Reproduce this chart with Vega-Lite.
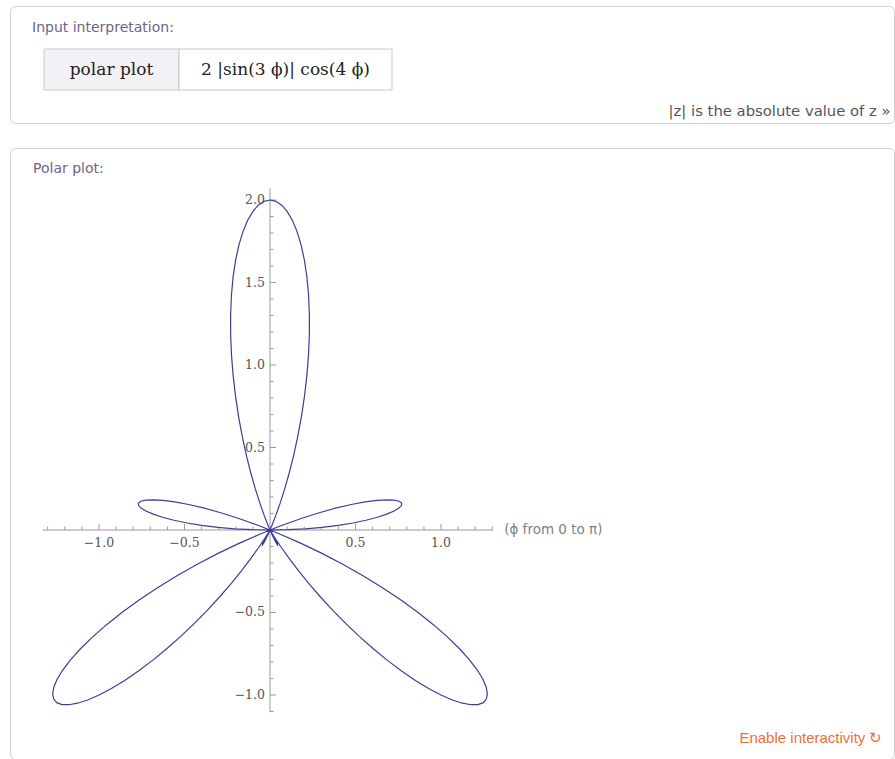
{
  "$schema": "https://vega.github.io/schema/vega-lite/v6.json",
  "background": "white",
  "padding": {"left": 9, "top": 5, "right": 0, "bottom": 0},
  "config": {
    "view": {"stroke": "#cfcfcf"},
    "title": {"font": "DejaVu Sans", "fontSize": 14, "fontWeight": "normal", "color": "#6f6487", "frame": "group"},
    "text": {"font": "DejaVu Sans"}
  },
  "datasets": {
    "input": [
      {"part": "head", "label": "polar plot"},
      {"part": "body", "label": "2 |sin(3 ϕ)| cos(4 ϕ)"}
    ],
    "axes": [
      {"axis": "x", "lo": -1.33, "hi": 1.305, "note": "(ϕ from 0 to π)"},
      {"axis": "y", "lo": -1.105, "hi": 2.07, "note": ""}
    ],
    "ticks": [
      {"axis": "x", "v": -1.3, "m": 0}, {"axis": "x", "v": -1.2, "m": 0}, {"axis": "x", "v": -1.1, "m": 0},
      {"axis": "x", "v": -1.0, "m": 1, "label": "−1.0"}, {"axis": "x", "v": -0.9, "m": 0}, {"axis": "x", "v": -0.8, "m": 0},
      {"axis": "x", "v": -0.7, "m": 0}, {"axis": "x", "v": -0.6, "m": 0}, {"axis": "x", "v": -0.5, "m": 1, "label": "−0.5"},
      {"axis": "x", "v": -0.4, "m": 0}, {"axis": "x", "v": -0.3, "m": 0}, {"axis": "x", "v": -0.2, "m": 0},
      {"axis": "x", "v": -0.1, "m": 0}, {"axis": "x", "v": 0.1, "m": 0}, {"axis": "x", "v": 0.2, "m": 0},
      {"axis": "x", "v": 0.3, "m": 0}, {"axis": "x", "v": 0.4, "m": 0}, {"axis": "x", "v": 0.5, "m": 1, "label": "0.5"},
      {"axis": "x", "v": 0.6, "m": 0}, {"axis": "x", "v": 0.7, "m": 0}, {"axis": "x", "v": 0.8, "m": 0},
      {"axis": "x", "v": 0.9, "m": 0}, {"axis": "x", "v": 1.0, "m": 1, "label": "1.0"}, {"axis": "x", "v": 1.1, "m": 0},
      {"axis": "x", "v": 1.2, "m": 0}, {"axis": "x", "v": 1.3, "m": 0},
      {"axis": "y", "v": -1.1, "m": 0}, {"axis": "y", "v": -1.0, "m": 1, "label": "−1.0"}, {"axis": "y", "v": -0.9, "m": 0},
      {"axis": "y", "v": -0.8, "m": 0}, {"axis": "y", "v": -0.7, "m": 0}, {"axis": "y", "v": -0.6, "m": 0},
      {"axis": "y", "v": -0.5, "m": 1, "label": "−0.5"}, {"axis": "y", "v": -0.4, "m": 0}, {"axis": "y", "v": -0.3, "m": 0},
      {"axis": "y", "v": -0.2, "m": 0}, {"axis": "y", "v": -0.1, "m": 0}, {"axis": "y", "v": 0.1, "m": 0},
      {"axis": "y", "v": 0.2, "m": 0}, {"axis": "y", "v": 0.3, "m": 0}, {"axis": "y", "v": 0.4, "m": 0},
      {"axis": "y", "v": 0.5, "m": 1, "label": "0.5"}, {"axis": "y", "v": 0.6, "m": 0}, {"axis": "y", "v": 0.7, "m": 0},
      {"axis": "y", "v": 0.8, "m": 0}, {"axis": "y", "v": 0.9, "m": 0}, {"axis": "y", "v": 1.0, "m": 1, "label": "1.0"},
      {"axis": "y", "v": 1.1, "m": 0}, {"axis": "y", "v": 1.2, "m": 0}, {"axis": "y", "v": 1.3, "m": 0},
      {"axis": "y", "v": 1.4, "m": 0}, {"axis": "y", "v": 1.5, "m": 1, "label": "1.5"}, {"axis": "y", "v": 1.6, "m": 0},
      {"axis": "y", "v": 1.7, "m": 0}, {"axis": "y", "v": 1.8, "m": 0}, {"axis": "y", "v": 1.9, "m": 0},
      {"axis": "y", "v": 2.0, "m": 1, "label": "2.0"}
    ],
    "curve": [
      {"p": 0, "x": 0, "y": 0}, {"p": 1, "x": 0.1044, "y": 0.0018}, {"p": 2, "x": 0.2069, "y": 0.0072},
      {"p": 3, "x": 0.3055, "y": 0.016}, {"p": 4, "x": 0.3987, "y": 0.0279}, {"p": 5, "x": 0.4846, "y": 0.0424},
      {"p": 6, "x": 0.5614, "y": 0.059}, {"p": 7, "x": 0.6282, "y": 0.0772}, {"p": 8, "x": 0.6831, "y": 0.096},
      {"p": 9, "x": 0.7256, "y": 0.1149}, {"p": 10, "x": 0.7544, "y": 0.133}, {"p": 11, "x": 0.7691, "y": 0.1495},
      {"p": 12, "x": 0.7694, "y": 0.1635}, {"p": 13, "x": 0.7551, "y": 0.1744}, {"p": 14, "x": 0.7261, "y": 0.181},
      {"p": 15, "x": 0.683, "y": 0.183}, {"p": 16, "x": 0.6264, "y": 0.1796}, {"p": 17, "x": 0.5568, "y": 0.1702},
      {"p": 18, "x": 0.4755, "y": 0.1545}, {"p": 19, "x": 0.3837, "y": 0.1321}, {"p": 20, "x": 0.2826, "y": 0.1028},
      {"p": 21, "x": 0.1738, "y": 0.0667}, {"p": 22, "x": 0.0592, "y": 0.0239}, {"p": 23, "x": -0.06, "y": -0.0255},
      {"p": 24, "x": -0.1816, "y": -0.0809}, {"p": 25, "x": -0.304, "y": -0.1417}, {"p": 26, "x": -0.4253, "y": -0.2075},
      {"p": 27, "x": -0.5439, "y": -0.2771}, {"p": 28, "x": -0.6578, "y": -0.3498}, {"p": 29, "x": -0.7658, "y": -0.4245},
      {"p": 30, "x": -0.866, "y": -0.5}, {"p": 31, "x": -0.9573, "y": -0.5752}, {"p": 32, "x": -1.0385, "y": -0.6489},
      {"p": 33, "x": -1.1085, "y": -0.7198}, {"p": 34, "x": -1.1665, "y": -0.7869}, {"p": 35, "x": -1.2122, "y": -0.8488},
      {"p": 36, "x": -1.245, "y": -0.9046}, {"p": 37, "x": -1.2645, "y": -0.9529}, {"p": 38, "x": -1.2711, "y": -0.9932},
      {"p": 39, "x": -1.265, "y": -1.0244}, {"p": 40, "x": -1.2467, "y": -1.0462}, {"p": 41, "x": -1.217, "y": -1.058},
      {"p": 42, "x": -1.176, "y": -1.0589}, {"p": 43, "x": -1.1257, "y": -1.0497}, {"p": 44, "x": -1.0664, "y": -1.03},
      {"p": 45, "x": -1.0, "y": -1.0}, {"p": 46, "x": -0.9274, "y": -0.9603}, {"p": 47, "x": -0.85, "y": -0.9116},
      {"p": 48, "x": -0.7694, "y": -0.8545}, {"p": 49, "x": -0.6869, "y": -0.7902}, {"p": 50, "x": -0.604, "y": -0.7198},
      {"p": 51, "x": -0.522, "y": -0.6446}, {"p": 52, "x": -0.4422, "y": -0.5659}, {"p": 53, "x": -0.3658, "y": -0.4854},
      {"p": 54, "x": -0.2939, "y": -0.4045}, {"p": 55, "x": -0.2274, "y": -0.3248}, {"p": 56, "x": -0.1673, "y": -0.248},
      {"p": 57, "x": -0.114, "y": -0.1755}, {"p": 58, "x": -0.0682, "y": -0.1091}, {"p": 59, "x": -0.0301, "y": -0.0501},
      {"p": 60, "x": 0, "y": 0}, {"p": 61, "x": -0.0223, "y": -0.0401}, {"p": 62, "x": -0.0368, "y": -0.0691},
      {"p": 63, "x": -0.0439, "y": -0.0862}, {"p": 64, "x": -0.0441, "y": -0.0904}, {"p": 65, "x": -0.038, "y": -0.0815},
      {"p": 66, "x": -0.0263, "y": -0.059}, {"p": 67, "x": -0.0098, "y": -0.023}, {"p": 68, "x": 0.0106, "y": 0.0263},
      {"p": 69, "x": 0.034, "y": 0.0886}, {"p": 70, "x": 0.0594, "y": 0.1631}, {"p": 71, "x": 0.0858, "y": 0.2491},
      {"p": 72, "x": 0.1123, "y": 0.3455}, {"p": 73, "x": 0.1379, "y": 0.4509}, {"p": 74, "x": 0.1617, "y": 0.564},
      {"p": 75, "x": 0.183, "y": 0.683}, {"p": 76, "x": 0.201, "y": 0.8064}, {"p": 77, "x": 0.2153, "y": 0.9324},
      {"p": 78, "x": 0.2251, "y": 1.0589}, {"p": 79, "x": 0.2302, "y": 1.1844}, {"p": 80, "x": 0.2303, "y": 1.3065},
      {"p": 81, "x": 0.2255, "y": 1.4239}, {"p": 82, "x": 0.2157, "y": 1.5343}, {"p": 83, "x": 0.201, "y": 1.6362},
      {"p": 84, "x": 0.1816, "y": 1.7281}, {"p": 85, "x": 0.1583, "y": 1.8084}, {"p": 86, "x": 0.1313, "y": 1.876},
      {"p": 87, "x": 0.101, "y": 1.9294}, {"p": 88, "x": 0.0687, "y": 1.9685}, {"p": 89, "x": 0.0349, "y": 1.992},
      {"p": 90, "x": 0, "y": 2.0},
      {"p": 91, "x": -0.0349, "y": 1.992}, {"p": 92, "x": -0.0687, "y": 1.9685}, {"p": 93, "x": -0.101, "y": 1.9294},
      {"p": 94, "x": -0.1313, "y": 1.876}, {"p": 95, "x": -0.1583, "y": 1.8084}, {"p": 96, "x": -0.1816, "y": 1.7281},
      {"p": 97, "x": -0.201, "y": 1.6362}, {"p": 98, "x": -0.2157, "y": 1.5343}, {"p": 99, "x": -0.2255, "y": 1.4239},
      {"p": 100, "x": -0.2303, "y": 1.3065}, {"p": 101, "x": -0.2302, "y": 1.1844}, {"p": 102, "x": -0.2251, "y": 1.0589},
      {"p": 103, "x": -0.2153, "y": 0.9324}, {"p": 104, "x": -0.201, "y": 0.8064}, {"p": 105, "x": -0.183, "y": 0.683},
      {"p": 106, "x": -0.1617, "y": 0.564}, {"p": 107, "x": -0.1379, "y": 0.4509}, {"p": 108, "x": -0.1123, "y": 0.3455},
      {"p": 109, "x": -0.0858, "y": 0.2491}, {"p": 110, "x": -0.0594, "y": 0.1631}, {"p": 111, "x": -0.034, "y": 0.0886},
      {"p": 112, "x": -0.0106, "y": 0.0263}, {"p": 113, "x": 0.0098, "y": -0.023}, {"p": 114, "x": 0.0263, "y": -0.059},
      {"p": 115, "x": 0.038, "y": -0.0815}, {"p": 116, "x": 0.0441, "y": -0.0904}, {"p": 117, "x": 0.0439, "y": -0.0862},
      {"p": 118, "x": 0.0368, "y": -0.0691}, {"p": 119, "x": 0.0223, "y": -0.0401}, {"p": 120, "x": 0, "y": 0},
      {"p": 121, "x": 0.0301, "y": -0.0501}, {"p": 122, "x": 0.0682, "y": -0.1091}, {"p": 123, "x": 0.114, "y": -0.1755},
      {"p": 124, "x": 0.1673, "y": -0.248}, {"p": 125, "x": 0.2274, "y": -0.3248}, {"p": 126, "x": 0.2939, "y": -0.4045},
      {"p": 127, "x": 0.3658, "y": -0.4854}, {"p": 128, "x": 0.4422, "y": -0.5659}, {"p": 129, "x": 0.522, "y": -0.6446},
      {"p": 130, "x": 0.604, "y": -0.7198}, {"p": 131, "x": 0.6869, "y": -0.7902}, {"p": 132, "x": 0.7694, "y": -0.8545},
      {"p": 133, "x": 0.85, "y": -0.9116}, {"p": 134, "x": 0.9274, "y": -0.9603}, {"p": 135, "x": 1.0, "y": -1.0},
      {"p": 136, "x": 1.0664, "y": -1.03}, {"p": 137, "x": 1.1257, "y": -1.0497}, {"p": 138, "x": 1.176, "y": -1.0589},
      {"p": 139, "x": 1.217, "y": -1.058}, {"p": 140, "x": 1.2467, "y": -1.0462}, {"p": 141, "x": 1.265, "y": -1.0244},
      {"p": 142, "x": 1.2711, "y": -0.9932}, {"p": 143, "x": 1.2645, "y": -0.9529}, {"p": 144, "x": 1.245, "y": -0.9046},
      {"p": 145, "x": 1.2122, "y": -0.8488}, {"p": 146, "x": 1.1665, "y": -0.7869}, {"p": 147, "x": 1.1085, "y": -0.7198},
      {"p": 148, "x": 1.0385, "y": -0.6489}, {"p": 149, "x": 0.9573, "y": -0.5752}, {"p": 150, "x": 0.866, "y": -0.5},
      {"p": 151, "x": 0.7658, "y": -0.4245}, {"p": 152, "x": 0.6578, "y": -0.3498}, {"p": 153, "x": 0.5439, "y": -0.2771},
      {"p": 154, "x": 0.4253, "y": -0.2075}, {"p": 155, "x": 0.304, "y": -0.1417}, {"p": 156, "x": 0.1816, "y": -0.0809},
      {"p": 157, "x": 0.06, "y": -0.0255}, {"p": 158, "x": -0.0592, "y": 0.0239}, {"p": 159, "x": -0.1738, "y": 0.0667},
      {"p": 160, "x": -0.2826, "y": 0.1028}, {"p": 161, "x": -0.3837, "y": 0.1321}, {"p": 162, "x": -0.4755, "y": 0.1545},
      {"p": 163, "x": -0.5568, "y": 0.1702}, {"p": 164, "x": -0.6264, "y": 0.1796}, {"p": 165, "x": -0.683, "y": 0.183},
      {"p": 166, "x": -0.7261, "y": 0.181}, {"p": 167, "x": -0.7551, "y": 0.1744}, {"p": 168, "x": -0.7694, "y": 0.1635},
      {"p": 169, "x": -0.7691, "y": 0.1495}, {"p": 170, "x": -0.7544, "y": 0.133}, {"p": 171, "x": -0.7256, "y": 0.1149},
      {"p": 172, "x": -0.6831, "y": 0.096}, {"p": 173, "x": -0.6282, "y": 0.0772}, {"p": 174, "x": -0.5614, "y": 0.059},
      {"p": 175, "x": -0.4846, "y": 0.0424}, {"p": 176, "x": -0.3987, "y": 0.0279}, {"p": 177, "x": -0.3055, "y": 0.016},
      {"p": 178, "x": -0.2069, "y": 0.0072}, {"p": 179, "x": -0.1044, "y": 0.0018}, {"p": 180, "x": 0, "y": 0}
    ]
  },
  "spacing": 23,
  "vconcat": [
    {
      "width": 884,
      "height": 117,
      "view": {"stroke": "#cfcfcf", "cornerRadius": 5, "fill": "white"},
      "title": {"text": "Input interpretation:", "orient": "top", "anchor": "start", "baseline": "alphabetic", "offset": -40, "dx": 22},
      "data": {"name": "input"},
      "encoding": {
        "x": {
          "field": "part",
          "type": "nominal",
          "scale": {"domain": ["head", "body"], "range": [14.5, 362.5], "paddingInner": 0, "paddingOuter": 0},
          "axis": {
            "title": "|z| is the absolute value of z »",
            "domain": false,
            "ticks": false,
            "labels": false,
            "grid": false,
            "titleFont": "DejaVu Sans",
            "titleFontSize": 14.8,
            "titleFontWeight": "normal",
            "titleColor": "#555555",
            "titleAlign": "right",
            "titleBaseline": "alphabetic",
            "titleX": 880,
            "titleY": -8
          }
        },
        "y": {
          "datum": "input",
          "type": "nominal",
          "scale": {"domain": ["input"], "range": [43, 84], "paddingInner": 0, "paddingOuter": 0},
          "axis": null
        }
      },
      "layer": [
        {
          "transform": [{"filter": "datum.part == 'head'"}],
          "mark": {"type": "rect", "width": 135, "fill": "#f4f1f6", "stroke": "#c9c9c9", "strokeWidth": 1}
        },
        {
          "transform": [{"filter": "datum.part == 'body'"}],
          "mark": {"type": "rect", "width": 213, "fill": "white", "stroke": "#c9c9c9", "strokeWidth": 1}
        },
        {
          "mark": {"type": "text", "font": "DejaVu Serif", "fontSize": 17, "color": "#222222", "baseline": "middle"},
          "encoding": {"text": {"field": "label"}}
        }
      ]
    },
    {
      "title": {
        "text": "Enable interactivity ↻",
        "orient": "bottom",
        "anchor": "end",
        "frame": "bounds",
        "baseline": "alphabetic",
        "offset": -17,
        "dx": -12,
        "font": "Liberation Sans",
        "fontSize": 15,
        "color": "#ef7035"
      },
      "vconcat": [
        {
          "width": 884,
          "height": 611,
          "view": {"stroke": "#cfcfcf", "cornerRadius": 5, "fill": "white"},
          "title": {"text": "Polar plot:", "orient": "top", "anchor": "start", "baseline": "alphabetic", "offset": -39, "dx": 23},
          "layer": [
            {
              "data": {"name": "axes"},
              "transform": [{"filter": "datum.axis == 'x'"}],
              "mark": {"type": "rule", "color": "#9a9a9a", "strokeWidth": 1},
              "encoding": {
                "x": {"field": "lo", "type": "quantitative", "scale": {"domain": [-1.5205, 3.6491], "nice": false, "zero": false}, "axis": null},
                "x2": {"field": "hi"},
                "y": {"datum": 0, "type": "quantitative", "scale": {"domain": [-1.3879, 2.3152], "nice": false, "zero": false}, "axis": null}
              }
            },
            {
              "data": {"name": "axes"},
              "transform": [{"filter": "datum.axis == 'y'"}],
              "mark": {"type": "rule", "color": "#9a9a9a", "strokeWidth": 1},
              "encoding": {
                "x": {"datum": 0, "type": "quantitative", "axis": null},
                "y": {"field": "lo", "type": "quantitative", "axis": null},
                "y2": {"field": "hi"}
              }
            },
            {
              "data": {"name": "ticks"},
              "transform": [{"filter": "datum.axis == 'x' && datum.m == 0"}],
              "mark": {"type": "tick", "orient": "vertical", "size": 3.5, "thickness": 1, "yOffset": -1.75, "color": "#9a9a9a", "opacity": 1},
              "encoding": {
                "x": {"field": "v", "type": "quantitative", "axis": null},
                "y": {"datum": 0, "type": "quantitative", "axis": null}
              }
            },
            {
              "data": {"name": "ticks"},
              "transform": [{"filter": "datum.axis == 'x' && datum.m == 1"}],
              "mark": {"type": "tick", "orient": "vertical", "size": 6, "thickness": 1, "yOffset": -3, "color": "#9a9a9a", "opacity": 1},
              "encoding": {
                "x": {"field": "v", "type": "quantitative", "axis": null},
                "y": {"datum": 0, "type": "quantitative", "axis": null}
              }
            },
            {
              "data": {"name": "ticks"},
              "transform": [{"filter": "datum.axis == 'y' && datum.m == 0"}],
              "mark": {"type": "tick", "orient": "horizontal", "size": 3.5, "thickness": 1, "xOffset": 1.75, "color": "#9a9a9a", "opacity": 1},
              "encoding": {
                "x": {"datum": 0, "type": "quantitative", "axis": null},
                "y": {"field": "v", "type": "quantitative", "axis": null}
              }
            },
            {
              "data": {"name": "ticks"},
              "transform": [{"filter": "datum.axis == 'y' && datum.m == 1"}],
              "mark": {"type": "tick", "orient": "horizontal", "size": 6, "thickness": 1, "xOffset": 3, "color": "#9a9a9a", "opacity": 1},
              "encoding": {
                "x": {"datum": 0, "type": "quantitative", "axis": null},
                "y": {"field": "v", "type": "quantitative", "axis": null}
              }
            },
            {
              "data": {"name": "ticks"},
              "transform": [{"filter": "datum.axis == 'x' && datum.m == 1"}],
              "mark": {"type": "text", "font": "DejaVu Serif", "fontSize": 12.5, "color": "#555555", "align": "center", "baseline": "middle", "dy": 13},
              "encoding": {
                "x": {"field": "v", "type": "quantitative", "axis": null},
                "y": {"datum": 0, "type": "quantitative", "axis": null},
                "text": {"field": "label"}
              }
            },
            {
              "data": {"name": "ticks"},
              "transform": [{"filter": "datum.axis == 'y' && datum.m == 1"}],
              "mark": {"type": "text", "font": "DejaVu Serif", "fontSize": 12.5, "color": "#555555", "align": "right", "baseline": "middle", "dx": -5},
              "encoding": {
                "x": {"datum": 0, "type": "quantitative", "axis": null},
                "y": {"field": "v", "type": "quantitative", "axis": null},
                "text": {"field": "label"}
              }
            },
            {
              "data": {"name": "axes"},
              "transform": [{"filter": "datum.axis == 'x'"}],
              "mark": {"type": "text", "font": "DejaVu Sans", "fontSize": 13.5, "color": "#808080", "align": "left", "baseline": "middle", "dx": 11},
              "encoding": {
                "x": {"field": "hi", "type": "quantitative", "axis": null},
                "y": {"datum": 0, "type": "quantitative", "axis": null},
                "text": {"field": "note"}
              }
            },
            {
              "data": {"name": "curve"},
              "mark": {"type": "line", "color": "#3d3d99", "strokeWidth": 1.2},
              "encoding": {
                "x": {"field": "x", "type": "quantitative", "axis": null},
                "y": {"field": "y", "type": "quantitative", "axis": null},
                "order": {"field": "p", "type": "quantitative"}
              }
            }
          ]
        }
      ]
    }
  ]
}
